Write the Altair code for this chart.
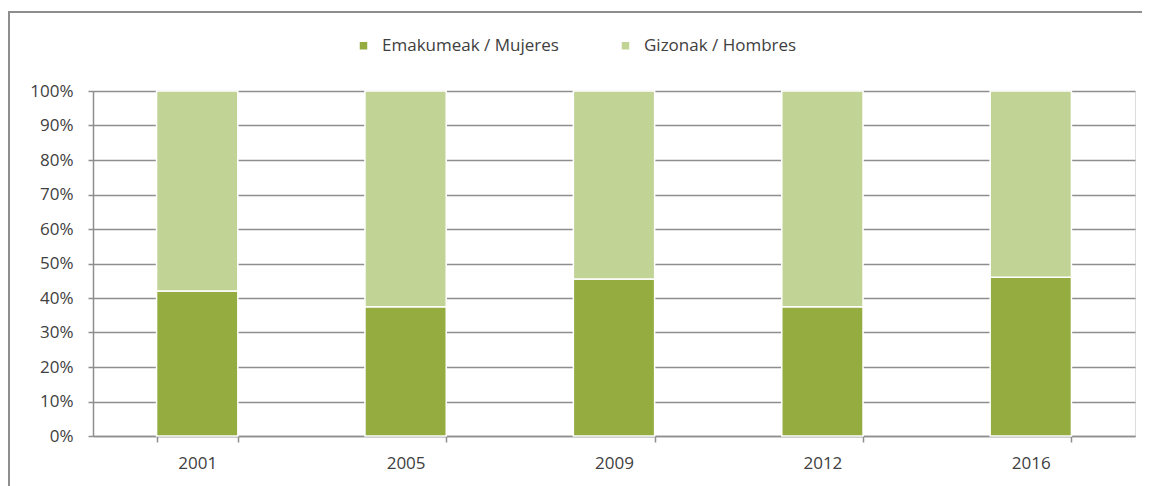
import altair as alt
import pandas as pd

years = ["2001", "2005", "2009", "2012", "2016"]
women = [42.0, 37.5, 45.5, 37.5, 46.0]
men = [58.0, 62.5, 54.5, 62.5, 54.0]
series = ["Emakumeak / Mujeres", "Gizonak / Hombres"]
colors = ["#94AC40", "#C2D396"]

rows = []
for i, y in enumerate(years):
    rows.append({"year": y, "serie": series[0], "value": women[i], "ord": 0})
    rows.append({"year": y, "serie": series[1], "value": men[i], "ord": 1})
df = pd.DataFrame(rows)

FONT = "Open Sans"
TXT = "#404040"
GRID = "#8E8E8E"

bars = alt.Chart(df).mark_bar(stroke="white", strokeWidth=1.5).encode(
    x=alt.X("year:N", sort=years, title=None,
            scale=alt.Scale(paddingInner=0.61, paddingOuter=0.305),
            axis=alt.Axis(labelAngle=0, tickBand="extent", grid=False,
                          domainColor=GRID, tickColor=GRID, tickSize=6, tickWidth=1.5,
                          domainWidth=1.5,
                          labelPadding=13, labelFontSize=17, labelColor=TXT,
                          labelFont=FONT)),
    y=alt.Y("value:Q", stack="zero", title=None,
            scale=alt.Scale(domain=[0, 100], nice=False),
            axis=alt.Axis(values=list(range(0, 101, 10)),
                          labelExpr="datum.value + '%'",
                          grid=True, gridColor=GRID, gridWidth=1.5,
                          domainColor=GRID, tickColor=GRID, tickSize=5, tickWidth=1.5,
                          domainWidth=1.5,
                          labelPadding=15, labelFontSize=17, labelColor=TXT,
                          labelFont=FONT)),
    color=alt.Color("serie:N", sort=series,
                    scale=alt.Scale(domain=series, range=colors),
                    legend=alt.Legend(title=None, orient="none", direction="horizontal",
                                      legendX=262, legendY=-54,
                                      symbolType="square", symbolSize=56,
                                      symbolStrokeWidth=0, labelLimit=400,
                                      labelFontSize=17, labelColor=TXT, labelFont=FONT,
                                      labelOffset=10, columnPadding=58)),
    order=alt.Order("ord:Q"),
)

frame = alt.Chart(pd.DataFrame({"a": [0]})).mark_rect(
    fill=None, stroke="#8E8E8E", strokeWidth=2
).encode(
    x=alt.value(-84), x2=alt.value(1200), y=alt.value(-79), y2=alt.value(600)
)

chart = alt.layer(frame, bars).properties(
    width=1042, height=345,
    autosize=alt.AutoSizeParams(type="none"),
    padding={"left": 85, "top": 83, "right": 7, "bottom": 50},
).configure_view(stroke=None).configure(background="white")

chart.save("out.html", embed_options={"renderer": "svg", "actions": False})
